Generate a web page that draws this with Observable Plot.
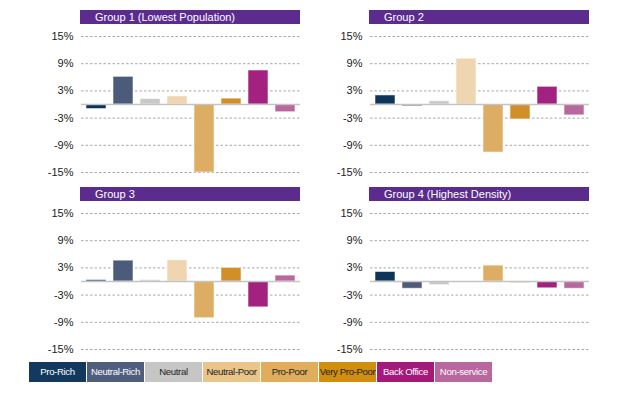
<!DOCTYPE html>
<html>
<head>
<meta charset="utf-8">
<script src="https://cdn.jsdelivr.net/npm/d3@7"></script>
<script src="https://cdn.jsdelivr.net/npm/@observablehq/plot@0.6"></script>
<style>
  html, body { margin: 0; padding: 0; background: #fff; }
  #root { position: relative; width: 640px; height: 393px; font-family: "Liberation Sans", Arial, sans-serif; overflow: hidden; }
  .panel { position: absolute; }
  .title { position: absolute; height: 14px; background: #5b2c8e; color: #fff; font-size: 11px; line-height: 14px; box-sizing: border-box; padding-left: 15px; white-space: nowrap; }
  .legend { position: absolute; left: 29px; top: 362px; display: flex; }
  .legend div { width: 57px; height: 20px; line-height: 20px; text-align: center; font-size: 9.6px; border-right: 1px solid #fff; white-space: nowrap; letter-spacing: -0.35px; }
</style>
</head>
<body>
<div id="root"></div>
<script>
const categories = ["Pro-Rich", "Neutral-Rich", "Neutral", "Neutral-Poor", "Pro-Poor", "Very Pro-Poor", "Back Office", "Non-service"];
const barColors = ["#0e3558", "#4c5b7a", "#c8c8c8", "#efd6b1", "#dcad62", "#d18f2a", "#a4227f", "#b8689e"];
const legendColors = ["#133a5e", "#4f5e7d", "#c6c6c6", "#e9c58a", "#e0ad5c", "#d18e0f", "#a5197b", "#b8689e"];
const legendText = ["#fff", "#fff", "#222", "#222", "#222", "#222", "#fff", "#fff"];
const groupTitles = ["Group 1 (Lowest Population)", "Group 2", "Group 3", "Group 4 (Highest Density)"];
const group1 = [-1.0, 6.1, 1.2, 1.8, -15.0, 1.3, 7.5, -1.7];
const group2 = [2.0, -0.4, 0.7, 10.1, -10.6, -3.3, 3.9, -2.4];
const group3 = [0.3, 4.6, 0.3, 4.7, -8.1, 3.0, -5.7, 1.3];
const group4 = [2.1, -1.6, -0.8, -0.1, 3.5, -0.3, -1.5, -1.6];
const yTicks = [-15, -9, -3, 3, 9, 15];

const groups = [group1, group2, group3, group4];
const layout = [
  {left: 0, top: 26},
  {left: 289, top: 26},
  {left: 0, top: 202.7},
  {left: 289, top: 202.7}
];

const root = document.getElementById("root");
const color = d3.scaleOrdinal(categories, barColors);

groups.forEach((vals, i) => {
  const data = categories.map((c, j) => ({cat: c, value: vals[j]}));
  const chart = Plot.plot({
    width: 300,
    height: 156,
    marginLeft: 81,
    marginRight: 0,
    marginTop: 10,
    marginBottom: 10,
    style: {fontFamily: "Liberation Sans, Arial, sans-serif", fontSize: "11px", color: "#222", background: "transparent"},
    x: {domain: categories, paddingInner: 0.27, paddingOuter: 0.13, axis: null, label: null},
    y: {domain: [-15, 15], axis: null, label: null},
    marks: [
      Plot.ruleY(yTicks, {stroke: "#a8a8a8", strokeDasharray: "2.5,2", strokeWidth: 1}),
      Plot.axisY(yTicks, {tickSize: 0, tickPadding: 8, tickFormat: d => d + "%", fontSize: 11, fill: "#222", label: null}),
      Plot.barY(data, {x: "cat", y: "value", fill: d => color(d.cat), stroke: "#fff", strokeOpacity: 0.55, strokeWidth: 1}),
      Plot.ruleY([0], {stroke: "#c4c4c4", strokeWidth: 1.5})
    ]
  });
  chart.classList.add("panel");
  chart.style.left = layout[i].left + "px";
  chart.style.top = layout[i].top + "px";
  root.appendChild(chart);

  const t = document.createElement("div");
  t.className = "title";
  t.textContent = groupTitles[i];
  t.style.left = (layout[i].left + 80) + "px";
  t.style.top = (layout[i].top - 16) + "px";
  t.style.width = "220px";
  root.appendChild(t);
});

const legend = document.createElement("div");
legend.className = "legend";
categories.forEach((c, j) => {
  const cell = document.createElement("div");
  cell.textContent = c;
  cell.style.background = legendColors[j];
  cell.style.color = legendText[j];
  legend.appendChild(cell);
});
root.appendChild(legend);
</script>
</body>
</html>
